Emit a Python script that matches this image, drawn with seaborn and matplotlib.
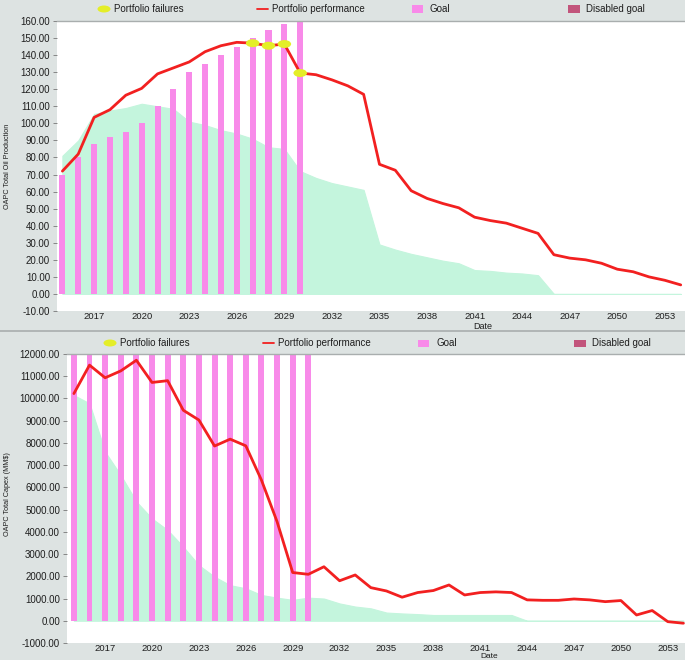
import numpy as np
import pandas as pd
import matplotlib
matplotlib.use("Agg")
import matplotlib.pyplot as plt
import seaborn as sns
from matplotlib.patches import Ellipse, Rectangle
from matplotlib.lines import Line2D
from matplotlib.path import Path
from matplotlib.transforms import Affine2D

# ---------------- data ----------------
years = list(range(2015, 2055))
goal_years = list(range(2015, 2031))

prod_perf = [72, 82, 103.5, 108, 116.5, 120.5, 129, 132.5, 136, 142, 145.5, 147.5,
             147, 145.5, 146.5, 129.5, 128.5, 125.5, 122, 117, 76, 72.5, 60.5, 56,
             53, 50.5, 45, 43, 41.5, 38.5, 35.5, 23, 21, 20, 18, 14.5, 13, 10, 8, 5.3]
prod_band = [81, 90, 105.5, 107.5, 109, 111.5, 110, 108.5, 101, 99, 96, 94, 91, 86,
             85, 72, 68, 65, 63, 61, 29, 26, 23.5, 21.5, 19.5, 18, 14, 13.5, 12.5, 12,
             11, 0, 0, 0, 0, 0, 0, 0, 0, 0]
prod_goal = [70, 80, 88, 92, 95, 100, 110, 120, 130, 135, 140, 145, 150, 155, 158, 165]
prod_fail_years = [2027, 2028, 2029, 2030]
prod_fail_vals = [147, 145.5, 146.5, 129.5]

capex_perf = [10220, 11500, 10930, 11240, 11720, 10720, 10800, 9470, 9030, 7860, 8170,
              7870, 6330, 4460, 2170, 2090, 2430, 1800, 2060, 1490, 1340, 1060, 1270,
              1360, 1610, 1160, 1270, 1300, 1270, 940, 920, 920, 980, 940, 860, 910,
              260, 460, -40, -110]
capex_band = [10150, 9780, 7600, 6550, 5360, 4600, 4080, 3330, 2500, 1980, 1600, 1460,
              1160, 1040, 940, 1040, 1000, 780, 640, 560, 370, 330, 300, 260, 260, 260,
              260, 260, 260, 0, 0, 0, 0, 0, 0, 0, 0, 0, 0, 0]
capex_goal = [13000, 13000, 13000, 13000, 13000, 13000, 13000, 13000, 13000, 13000,
              13000, 13000, 13000, 13000, 13000, 13000]

xtick_years = list(range(2017, 2054, 3))
legend_labels = ["Portfolio failures", "Portfolio performance", "Goal", "Disabled goal"]

# ---------------- style ----------------
BG = "#dde3e2"
GREEN = "#c4f5dd"
PINK = "#f88ae9"
RED = "#f22020"
YELLOW = "#e4ee28"
DISABLED = "#c2557c"
TXT = "#1e1e1e"

sns.set_style("white")
plt.rcParams["font.family"] = ["Liberation Sans", "DejaVu Sans"]

W, H = 685, 660
fig = plt.figure(figsize=(W / 100, H / 100), dpi=100, facecolor=BG)


def fx(px):
    return px / W


def fy(py):
    return 1 - py / H


def make_axes(left, top, bottom):
    return fig.add_axes([fx(left), fy(bottom), fx(W - left), (bottom - top) / H])


ell = Path.unit_circle().transformed(Affine2D().scale(1.7, 1.0))


def draw_panel(ax, perf, band, goal, ylim, yticks, xlim, fail_x=None, fail_y=None):
    ax.set_facecolor("white")
    ax.fill_between(years, band, 0, color=GREEN, lw=0.8, zorder=1)
    df_goal = pd.DataFrame({"year": goal_years, "goal": goal})
    sns.barplot(data=df_goal, x="year", y="goal", native_scale=True, width=0.38,
                color=PINK, saturation=1, ax=ax, zorder=2, linewidth=0)
    df_perf = pd.DataFrame({"year": years, "perf": perf})
    sns.lineplot(data=df_perf, x="year", y="perf", color=RED, lw=2.0, ax=ax, zorder=3)
    if fail_x is not None:
        df_f = pd.DataFrame({"year": fail_x, "val": fail_y})
        sns.scatterplot(data=df_f, x="year", y="val", marker=ell, s=95, color=YELLOW,
                        edgecolor="none", ax=ax, zorder=4)
    ax.set_xlim(*xlim)
    ax.set_ylim(*ylim)
    ax.set_yticks(yticks)
    ax.set_yticklabels([f"{v:.2f}" for v in yticks])
    ax.set_xticks(xtick_years)
    ax.set_xticklabels([str(y) for y in xtick_years])
    ax.tick_params(axis="y", length=3, width=0.6, color="#777777", labelsize=7,
                   labelcolor=TXT, pad=2, left=True)
    ax.tick_params(axis="x", length=0, labelsize=6.8, labelcolor=TXT, pad=1)
    for s in ["left", "bottom", "right"]:
        ax.spines[s].set_visible(False)
    ax.spines["top"].set_color("#a9aeae")
    ax.spines["top"].set_linewidth(1.0)
    ax.set_ylabel("")
    ax.set_xlabel("Date", fontsize=6.5, color=TXT)


ax1 = make_axes(57, 21, 311)
draw_panel(ax1, prod_perf, prod_band, prod_goal, (-10, 160), list(range(-10, 161, 10)),
           (2014.66, 2054.27), prod_fail_years, prod_fail_vals)
ax1.xaxis.set_label_coords(0.678, -0.038)

ax2 = make_axes(67, 354, 643)
draw_panel(ax2, capex_perf, capex_band, capex_goal, (-1000, 12000),
           list(range(-1000, 12001, 1000)), (2014.56, 2054.1))
ax2.xaxis.set_label_coords(0.683, -0.035)
ax2.xaxis.label.set_fontsize(6)

fig.text(fx(8), fy(166), "OAPC Total Oil Production", rotation=90, fontsize=5.2,
         ha="center", va="center", color=TXT)
fig.text(fx(8), fy(494), "OAPC Total Capex (MM$)", rotation=90, fontsize=5.2,
         ha="center", va="center", color=TXT)

# separator between panels
fig.add_artist(Line2D([0, 1], [fy(331), fy(331)], transform=fig.transFigure,
                      color="#a9aeae", lw=1.2))


def legend_row(yc, dx):
    fs = 7
    fig.add_artist(Ellipse((fx(104 + dx), fy(yc)), 13 / W, 7 / H, transform=fig.transFigure,
                           color=YELLOW, lw=0))
    fig.text(fx(114 + dx), fy(yc), legend_labels[0], fontsize=fs, va="center", color=TXT)
    fig.add_artist(Line2D([fx(257 + dx), fx(268 + dx)], [fy(yc), fy(yc)],
                          transform=fig.transFigure, color=RED, lw=1.3))
    fig.text(fx(272 + dx), fy(yc), legend_labels[1], fontsize=fs, va="center", color=TXT)
    fig.add_artist(Rectangle((fx(412 + dx), fy(yc + 3.5)), 11 / W, 7 / H,
                             transform=fig.transFigure, color=PINK, lw=0))
    fig.text(fx(430 + dx), fy(yc), legend_labels[2], fontsize=fs, va="center", color=TXT)
    fig.add_artist(Rectangle((fx(568 + dx), fy(yc + 3.5)), 12 / W, 7 / H,
                             transform=fig.transFigure, color=DISABLED, lw=0))
    fig.text(fx(586 + dx), fy(yc), legend_labels[3], fontsize=fs, va="center", color=TXT)


legend_row(9, 0)
legend_row(343, 6)

fig.savefig("out.png", dpi=100, facecolor=BG)
